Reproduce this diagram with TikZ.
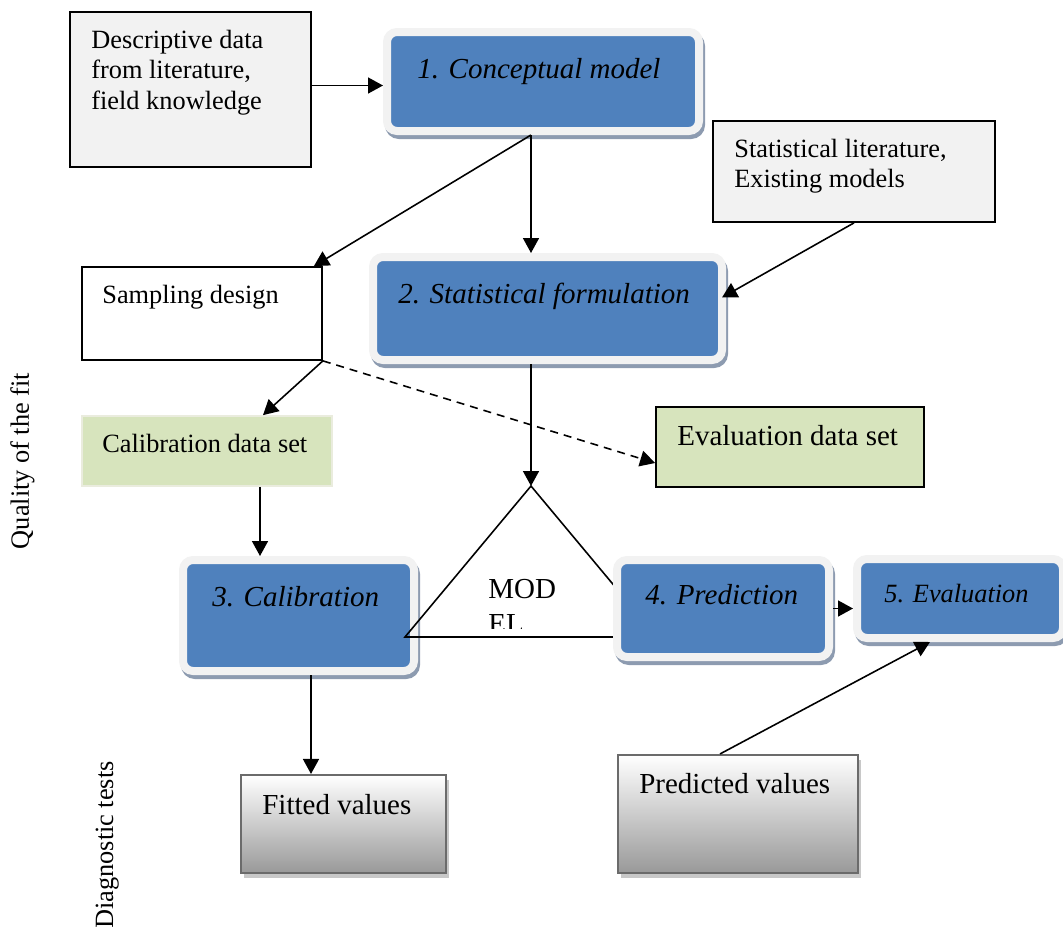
\documentclass[tikz,border=0pt]{standalone}
\usepackage{fontspec}
\setmainfont{Liberation Serif}
\usepackage{tikz}
\usetikzlibrary{calc}
\usetikzlibrary{positioning}
\usetikzlibrary{fit}
\usetikzlibrary{shadows}
\usetikzlibrary{arrows.meta}

\definecolor{stepblue}{RGB}{79,129,189}
\definecolor{rimgray}{RGB}{242,242,242}
\definecolor{shadeblue}{RGB}{141,155,176}
\definecolor{notegray}{RGB}{242,242,242}
\definecolor{datagreen}{RGB}{215,228,189}
\definecolor{greenrim}{RGB}{234,236,222}
\definecolor{valgray}{RGB}{107,107,107}
\definecolor{valshadow}{RGB}{200,200,200}

\newcommand{\smallfs}{\fontsize{15}{17.2}\selectfont}
\newcommand{\largefs}{\fontsize{16.5}{19.9}\selectfont}

\begin{document}
\begin{tikzpicture}[
x=0.02cm,y=-0.02cm,
every node/.style={inner sep=0pt,font=\smallfs},
note/.style={draw=black,line width=1pt,fill=notegray},
plain/.style={draw=black,line width=1pt,fill=white},
data/.style={draw=greenrim,line width=1pt,fill=datagreen},
stepbox/.style={draw=rimgray,line width=0.16cm,fill=stepblue,rounded corners=0.2cm,
  drop shadow={shadow xshift=0.04cm,shadow yshift=-0.08cm,fill=shadeblue,draw=shadeblue,
  line width=0.16cm,rounded corners=0.2cm,opacity=1}},
valbox/.style={draw=valgray,line width=1.2pt,top color=white,bottom color=black!40,
  drop shadow={shadow xshift=0.06cm,shadow yshift=-0.1cm,fill=valshadow,opacity=1}},
steptext/.style={anchor=base west,font=\largefs\itshape},
-->/.style={-{Triangle[length=0.3cm,width=0.32cm]},line width=0.9pt},
]
\useasboundingbox (0,0) rectangle (1063,927);

\node[note,fit={(70,12) (311,167)}] (desc) {};
\node[anchor=north west,align=left] (desct) at (91,30) {Descriptive data\\from literature,\\field knowledge};

\node[stepbox,fit={(387,32) (699,131)}] (conc) {};
\node[steptext] (conct) at (417,78) {1. Conceptual model};

\node[note,fit={(713,121) (995,222)}] (stat) {};
\node[anchor=north west,align=left] (statt) at (734,139) {Statistical literature,\\Existing models};

\node[plain,fit={(82,267) (322,360)}] (samp) {};
\node[anchor=base west] (sampt) at (102,303) {Sampling design};

\node[stepbox,fit={(373,257) (722,360)}] (form) {};
\node[steptext] (formt) at (398,303) {2. Statistical formulation};

\node[data,fit={(82,416) (332,486)}] (cald) {};
\node[anchor=base west] (caldt) at (102,452) {Calibration data set};

\node[data,draw=black,fit={(656,407) (924,487)}] (evald) {};
\node[anchor=base west,font=\largefs] (evaldt) at (677,445) {Evaluation data set};

\node[stepbox,fit={(183,560) (414,671)}] (cal) {};
\node[steptext] (calt) at (212,606) {3. Calibration};

\coordinate (apex) at (531,486);
\coordinate (lcorner) at (405,637);
\coordinate (rcorner) at (657,637);
\draw[line width=0.9pt] (apex) -- (lcorner) -- (rcorner) -- cycle;
\begin{scope}
\clip (470,560) rectangle (600,628);
\node[anchor=north west,align=left,font=\largefs] (model) at (488,579) {MOD\\EL};
\end{scope}

\node[stepbox,fit={(617,560) (829,657)}] (pred) {};
\node[steptext] (predt) at (645,604) {4. Prediction};

\node[stepbox,fit={(857,559) (1063,638)}] (eval) {};
\node[steptext,font=\smallfs\itshape] (evalt) at (884,602) {5. Evaluation};

\node[valbox,fit={(241,775) (446,873)}] (fitv) {};
\node[anchor=base west,font=\largefs] (fitvt) at (262,814) {Fitted values};

\node[valbox,fit={(618,755) (858,873)}] (predv) {};
\node[anchor=base west,font=\largefs] (predvt) at (639,793) {Predicted values};

\node[rotate=90,anchor=base] (qual) at (29,461) {Quality of the fit};
\node[rotate=90,anchor=base] (diag) at (113,845) {Diagnostic tests};

\coordinate (cdrop) at ($(cald.south)+(53,0)$);
\coordinate (cfit) at ($(cal.south)+(12.5,0)$);
\draw[-->] ($(desc.east)+(0,-4)$) -- ($(desc.east -| conc.west)+(0,-4)$);
\draw[-->] (conc.south -| apex) -- (form.north -| apex);
\draw[-->] (conc.south -| apex) -- ($(samp.north east)+(-9,0)$);
\draw[-->] (stat.south) -- ($(form.east)+(-4,-11)$);
\draw[-->] (form.south -| apex) -- (apex);
\draw[-->] (samp.south east) -- ($(cald.north)+(56,0)$);
\draw[-->,dash pattern=on 0.16cm off 0.12cm] (samp.south east) -- ($(evald.west)+(0,16)$);
\draw[-->] (cdrop) -- (cdrop |- cal.north);
\draw[-->] (pred.east) -- (pred.east -| eval.west);
\draw[-->] (cfit) -- (cfit |- fitv.north);
\draw[-->] ($(predv.north)+(-18,0)$) -- ($(eval.south)+(-30,0)$);
\end{tikzpicture}
\end{document}
